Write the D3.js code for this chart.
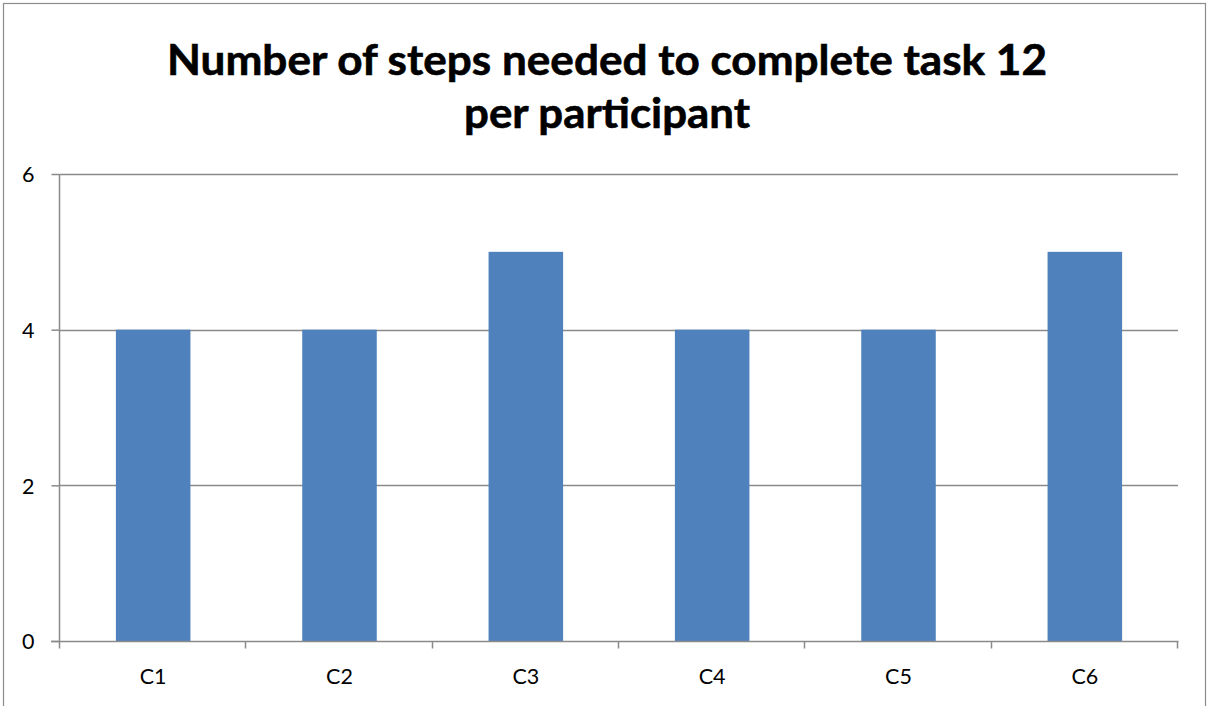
<!DOCTYPE html>
<html>
<head>
<meta charset="utf-8">
<script src="https://cdn.jsdelivr.net/npm/d3@7"></script>
<style>
  html, body { margin: 0; padding: 0; background: #fff; }
  svg { display: block; }
  text { font-family: Lato, "Open Sans", "Liberation Sans", sans-serif; fill: #000; }
</style>
</head>
<body>
<svg id="chart" width="1207" height="706"></svg>
<script>
// Steps per participant for task 12
const participants = ["C1", "C2", "C3", "C4", "C5", "C6"];
const steps = [4, 4, 5, 4, 4, 5];
const yTicks = [0, 2, 4, 6];
const titleLines = ["Number of steps needed to complete task 12", "per participant"];

const plot = { left: 60, right: 1178, top: 174, bottom: 641 };
const axisColor = "#8a8a8a";
const labelSize = 21.5;

const svg = d3.select("#chart");

// chart frame
svg.append("rect")
  .attr("x", 3.5).attr("y", 3.5)
  .attr("width", 1202).attr("height", 710)
  .attr("fill", "#fff")
  .attr("stroke", "#8c8c8c")
  .attr("stroke-width", 1.2);

const xBand = d3.scaleBand()
  .domain(participants)
  .range([plot.left, plot.right]);

const y = d3.scaleLinear()
  .domain([0, 6])
  .range([plot.bottom, plot.top]);

// horizontal gridlines
svg.append("g")
  .selectAll("line")
  .data(yTicks.filter(d => d > 0))
  .join("line")
  .attr("x1", plot.left).attr("x2", plot.right)
  .attr("y1", d => Math.round(y(d)) + 0.5)
  .attr("y2", d => Math.round(y(d)) + 0.5)
  .attr("stroke", axisColor)
  .attr("stroke-width", 1.5);

// bars: 40% of each category slot, centred
svg.append("g")
  .selectAll("rect")
  .data(participants.map((p, i) => ({ p, v: steps[i] })))
  .join("rect")
  .attr("x", d => xBand(d.p) + xBand.bandwidth() * 0.3)
  .attr("width", xBand.bandwidth() * 0.4)
  .attr("y", d => y(d.v))
  .attr("height", d => y(0) - y(d.v))
  .attr("fill", "#4f81bd");

// y axis
const yAxis = d3.axisLeft(y)
  .tickValues(yTicks)
  .tickSize(8)
  .tickPadding(17)
  .tickFormat(d3.format("d"));

const gy = svg.append("g")
  .attr("transform", `translate(${plot.left - 0.5},0)`)
  .call(yAxis);
gy.attr("font-family", null).attr("font-size", null);
gy.select(".domain").attr("stroke", axisColor).attr("stroke-width", 1.5)
  .attr("d", `M0,${plot.top}V${plot.bottom}`);
gy.selectAll(".tick line").attr("stroke", axisColor).attr("stroke-width", 1.5);
gy.selectAll(".tick text")
  .attr("font-size", labelSize)
  .attr("fill", "#000")
  .attr("dy", "0.36em");

// x axis with ticks at category boundaries
const gx = svg.append("g")
  .attr("transform", `translate(0,${plot.bottom + 0.5})`);
gx.append("line")
  .attr("x1", plot.left - 9).attr("x2", plot.right + 0.5)
  .attr("stroke", axisColor).attr("stroke-width", 1.5);
const bounds = participants.map(p => xBand(p)).concat([plot.right]);
gx.selectAll("line.tk")
  .data(bounds)
  .join("line")
  .attr("class", "tk")
  .attr("x1", d => Math.round(d) - 0.5).attr("x2", d => Math.round(d) - 0.5)
  .attr("y1", 0).attr("y2", 7)
  .attr("stroke", axisColor).attr("stroke-width", 1.5);
gx.selectAll("text")
  .data(participants)
  .join("text")
  .attr("x", d => xBand(d) + xBand.bandwidth() / 2)
  .attr("y", 42)
  .attr("text-anchor", "middle")
  .attr("font-size", labelSize)
  .text(d => d);

// title
const titleBaselines = [75, 128];
const titleWidths = [880, 286];
const titleX = 607;
titleLines.forEach((line, i) => {
  svg.append("text")
    .attr("x", titleX)
    .attr("y", titleBaselines[i])
    .attr("text-anchor", "middle")
    .attr("font-weight", "bold")
    .attr("font-size", 42)
    .attr("stroke", "#000")
    .attr("stroke-width", 0.6)
    .attr("textLength", titleWidths[i])
    .attr("lengthAdjust", "spacingAndGlyphs")
    .text(line);
});
</script>
</body>
</html>
